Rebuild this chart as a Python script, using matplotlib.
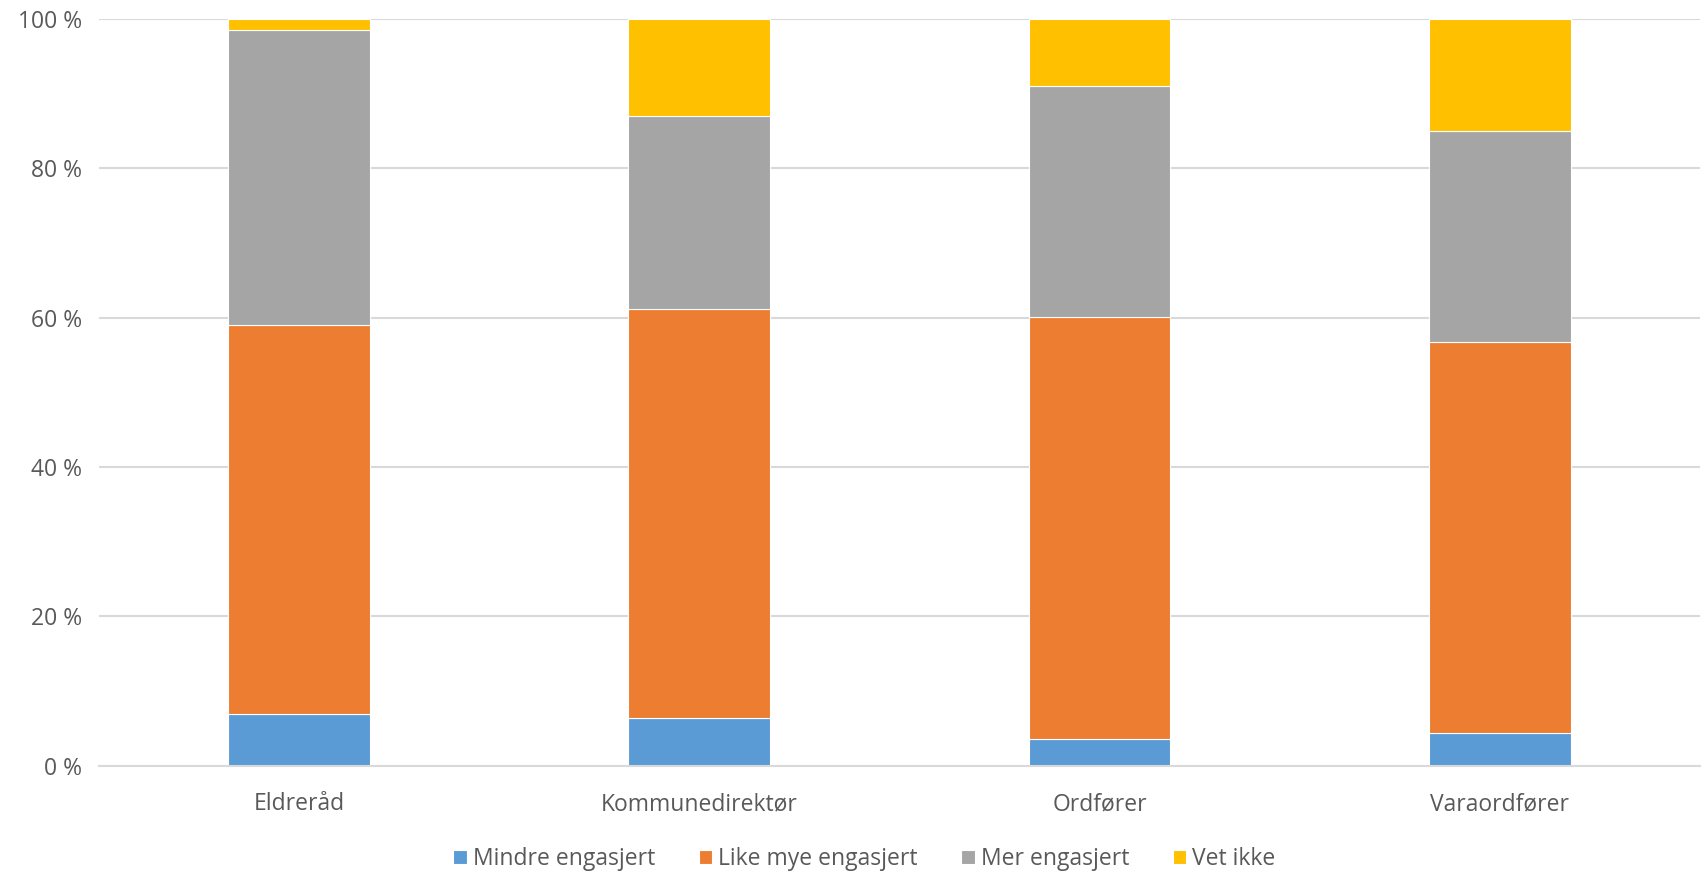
import matplotlib.pyplot as plt
import numpy as np

categories = ['Eldreråd', 'Kommunedirektør', 'Ordfører', 'Varaordfører']
series = ['Mindre engasjert', 'Like mye engasjert', 'Mer engasjert', 'Vet ikke']
mindre = [6.9, 6.4, 3.5, 4.4]
like_mye = [52.1, 54.8, 56.6, 52.3]
mer = [39.5, 25.8, 31.0, 28.3]
vet_ikke = [1.5, 13.0, 8.9, 15.0]
colors = ['#5b9bd5', '#ed7d31', '#a5a5a5', '#ffc000']

plt.rcParams['font.family'] = ['Open Sans', 'DejaVu Sans']

fig = plt.figure(figsize=(17.05, 8.72), dpi=100)
ax = fig.add_axes([0.058, 0.122, 0.939, 0.856])

x = np.arange(len(categories))
bottom = np.zeros(len(categories))
for name, vals, c in zip(series, [mindre, like_mye, mer, vet_ikke], colors):
    ax.bar(x, vals, 0.354, bottom=bottom, color=c, label=name,
           edgecolor='white', linewidth=0.8, zorder=3)
    bottom += np.array(vals)

ax.set_xlim(-0.5, 3.5)
ax.set_ylim(0, 100)
ax.set_yticks(range(0, 101, 20))
ax.set_yticklabels([f'{v} %' for v in range(0, 101, 20)])
ax.set_xticks(x)
ax.set_xticklabels(categories)
ax.tick_params(length=0, labelsize=16.5, colors='#595959')
ax.tick_params(axis='x', pad=19)
ax.tick_params(axis='y', pad=12)
ax.grid(axis='y', color='#d9d9d9', linewidth=1.5, zorder=0)
for s in ['top', 'right', 'left']:
    ax.spines[s].set_visible(False)
ax.spines['bottom'].set_color('#d9d9d9')
ax.spines['bottom'].set_linewidth(1.5)
ax.spines['bottom'].set_zorder(4)

fig.legend(loc='center', bbox_to_anchor=(0.507, 0.015), ncol=4, frameon=False,
           fontsize=16.5, handlelength=0.6, handleheight=0.6, handletextpad=0.25,
           columnspacing=1.9, labelcolor='#595959')

plt.savefig('out.png', dpi=100)
